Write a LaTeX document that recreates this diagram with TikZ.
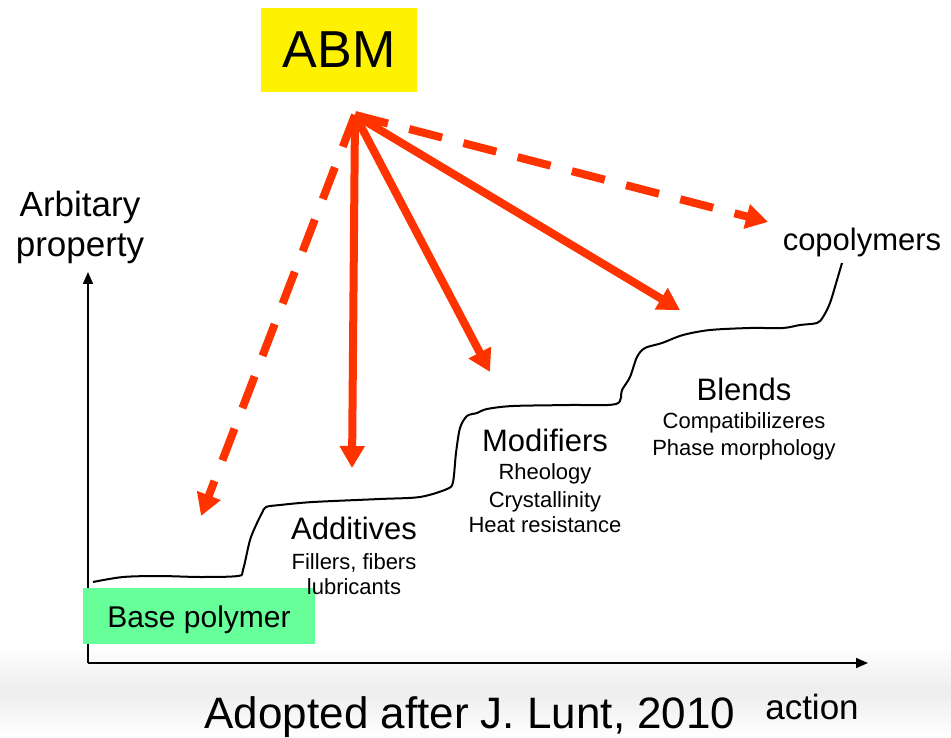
\documentclass[tikz,border=0pt]{standalone}
\usepackage{fontspec}
\setmainfont{Liberation Sans}
\usetikzlibrary{arrows.meta}

\definecolor{abmred}{HTML}{FF3300}
\definecolor{basegreen}{HTML}{66FF99}

\begin{document}
\begin{tikzpicture}[x=1pt,y=-1pt,
    redarrow/.style={draw=abmred, line width=8pt, -{Triangle[width=24pt,length=22pt]}},
    reddash/.style={redarrow, dash pattern=on 34pt off 22pt},
    axis/.style={line width=1.5pt, -{Triangle[width=10pt,length=12pt]}},
    big/.style={anchor=base, inner sep=0pt, font=\fontsize{35}{40}\selectfont},
    title/.style={anchor=base, inner sep=0pt, font=\fontsize{31}{36}\selectfont},
    detail/.style={anchor=base, inner sep=0pt, font=\fontsize{22}{26}\selectfont}]
    % Page and light background band
    \useasboundingbox (0,0) rectangle (951,738);
    \fill[white] (0,0) rectangle (951,738);
    \shade[top color=white, bottom color=white, middle color=black!7] (0,645) rectangle (951,738);

    % Draw the axes
    \coordinate (origin) at (88,663);
    \coordinate (ytip) at (88,272);
    \coordinate (xtip) at (868,663);
    \draw[axis] (origin) -- (ytip);
    \draw[axis] (origin) -- (xtip);

    % Draw the step curve
    \draw[line width=2pt] plot[smooth, tension=0.5] coordinates {
        (93,582) (123,577) (160,576) (200,577) (238,576) (243,570) (250,540)
        (257,523) (262,513) (266,507) (280,505) (313,502) (380,499) (420,497)
        (447,489) (453,482) (456,453) (460,428) (467,416) (477,413) (487,409)
        (513,406) (570,405) (616,404) (622,390) (630,377) (637,357) (645,348)
        (662,343) (683,335) (710,330) (750,328) (783,328) (800,325) (817,323)
        (823,317) (830,303) (837,280) (842,263)};

    % Boxes
    \node[fill=yellow, minimum width=156pt, minimum height=84pt, inner sep=0pt,
          font=\fontsize{52}{60}\selectfont] (abm) at (339,50) {ABM};
    \node[fill=basegreen, minimum width=232pt, minimum height=56pt, inner sep=0pt,
          text height=25pt, text depth=3pt,
          font=\fontsize{30}{36}\selectfont] (base) at (199,616) {Base polymer};

    % Arrows from ABM
    \coordinate (src) at (355,115);
    \coordinate (toadd) at (352,468);
    \coordinate (tomod) at (490,372);
    \coordinate (toblend) at (680,310);
    \coordinate (tobase) at (201,516);
    \coordinate (tocopo) at (768,222);
    \draw[redarrow] (src) -- (toadd);
    \draw[redarrow] (src) -- (tomod);
    \draw[redarrow] (src) -- (toblend);
    \draw[reddash] (src) -- (tobase);
    \draw[reddash] (src) -- (tocopo);

    % Add the labels
    \node[big] (ylab1) at (80,217) {Arbitary};
    \node[big] (ylab2) at (80,257) {property};
    \node[title] (copo) at (862,251) {copolymers};

    \node[title] (add) at (354,539) {Additives};
    \node[detail] (add1) at (354,569) {Fillers, fibers};
    \node[detail] (add2) at (354,594) {lubricants};

    \node[title] (mod) at (545,451) {Modifiers};
    \node[detail] (mod1) at (545,479) {Rheology};
    \node[detail] (mod2) at (545,507) {Crystallinity};
    \node[detail] (mod3) at (545,532) {Heat resistance};

    \node[title] (blend) at (744,400) {Blends};
    \node[detail] (blend1) at (744,428) {Compatibilizeres};
    \node[detail] (blend2) at (744,455) {Phase morphology};

    \node[anchor=base, inner sep=0pt, font=\fontsize{44}{50}\selectfont] (cite) at (470,728) {Adopted after J. Lunt, 2010};
    \node[big] (xlab) at (812,719) {action};
\end{tikzpicture}
\end{document}
